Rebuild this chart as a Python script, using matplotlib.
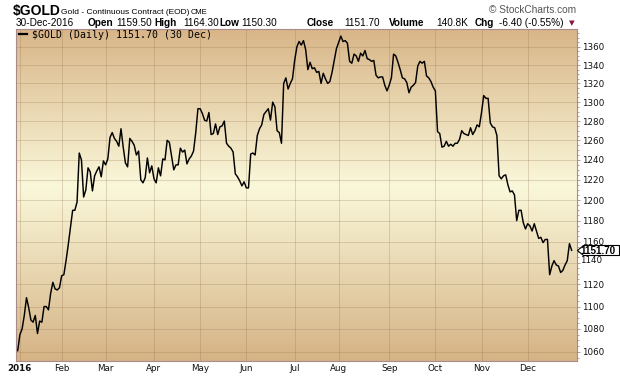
import numpy as np
import pandas as pd
import matplotlib

matplotlib.use("Agg")
import matplotlib.pyplot as plt
from matplotlib.colors import LinearSegmentedColormap
from matplotlib.lines import Line2D
from matplotlib.path import Path
from matplotlib.ticker import FixedFormatter, FixedLocator, NullFormatter
import matplotlib.transforms as mtransforms

# ── Data: $GOLD daily closes ─────────────────────────────────────────────────

prev_close = [1061.0]  # 31-Dec-2015
jan = [1075, 1080, 1092, 1108, 1099, 1088, 1086, 1092, 1076, 1087, 1086, 1100,
       1100, 1097, 1112, 1122, 1116, 1115, 1117]
feb = [1128, 1129, 1142, 1157, 1173, 1190, 1190, 1198, 1247, 1240, 1203, 1210,
       1232, 1228, 1209, 1224, 1229, 1233, 1223, 1239]
mar = [1235, 1241, 1263, 1268, 1262, 1259, 1254, 1272, 1253, 1237, 1233, 1262,
       1259, 1255, 1245, 1249, 1220, 1217, 1222, 1242, 1227, 1234]
apr = [1221, 1217, 1232, 1224, 1241, 1240, 1260, 1258, 1244, 1230, 1235, 1235,
       1252, 1248, 1250, 1236, 1241, 1244, 1249, 1268, 1293]
may = [1293, 1288, 1281, 1280, 1289, 1266, 1267, 1277, 1266, 1274, 1275, 1280,
       1257, 1254, 1252, 1248, 1226, 1223, 1219, 1214, 1218]
jun = [1212, 1212, 1246, 1247, 1245, 1265, 1272, 1276, 1287, 1290, 1293, 1281,
       1300, 1295, 1270, 1268, 1257, 1320, 1326, 1314, 1320, 1325]
jul = [1345, 1360, 1366, 1362, 1367, 1357, 1335, 1343, 1336, 1337, 1332, 1333,
       1320, 1331, 1325, 1320, 1322, 1332, 1345, 1358]
aug = [1365, 1372, 1366, 1367, 1364, 1344, 1342, 1352, 1350, 1344, 1353, 1350,
       1356, 1347, 1346, 1344, 1345, 1329, 1326, 1327, 1327, 1318, 1312]
sep = [1318, 1326, 1352, 1350, 1343, 1335, 1326, 1325, 1321, 1310, 1316, 1318,
       1321, 1339, 1344, 1342, 1344, 1328, 1326, 1322, 1316]
oct_ = [1312, 1269, 1267, 1253, 1254, 1259, 1254, 1256, 1254, 1257, 1257, 1261,
        1270, 1267, 1266, 1265, 1273, 1266, 1270, 1276, 1274]
nov = [1289, 1307, 1304, 1304, 1278, 1274, 1273, 1265, 1224, 1221, 1224, 1225,
       1215, 1208, 1209, 1205, 1180, 1190, 1190, 1178, 1172]
dec = [1177, 1175, 1170, 1177, 1170, 1163, 1164, 1159, 1162, 1162, 1129, 1137,
       1142, 1138, 1137, 1131, 1133, 1138, 1142, 1158, 1151.7]

holidays = ["2016-01-18", "2016-02-15", "2016-03-25", "2016-05-30",
            "2016-07-04", "2016-09-05", "2016-11-24", "2016-12-26"]
month_labels = ["2016", "Feb", "Mar", "Apr", "May", "Jun", "Jul", "Aug",
                "Sep", "Oct", "Nov", "Dec"]
y_ticks = list(range(1060, 1361, 20))
last_close = 1151.70

header_pieces = [  # (text, bold)
    ("30-Dec-2016", False), ("Open", True), ("1159.50", False),
    ("High", True), ("1164.30", False), ("Low", True), ("1150.30", False),
    ("Close", True), ("1151.70", False), ("Volume", True), ("140.8K", False),
    ("Chg", True), ("-6.40 (-0.55%)", False),
]
header_x = [16, 88, 116, 154, 183, 219, 241, 307, 344, 389, 436, 475, 499]

# ── Layout helpers (pixels of a 620x376 image) ───────────────────────────────

W, H = 620, 376
SANS = "Liberation Sans"


def fx(x):
    return x / W


def fy(y):
    return 1 - y / H


# ── Series ───────────────────────────────────────────────────────────────────

dates = pd.bdate_range("2016-01-04", "2016-12-30")
dates = dates[~dates.isin(pd.to_datetime(holidays))]
closes = np.array(prev_close + jan + feb + mar + apr + may + jun + jul + aug
                  + sep + oct_ + nov + dec, dtype=float)
xs = np.arange(len(closes)) - 1  # trading-day index, 0 = 4-Jan-2016
month = dates.month.to_numpy()
month_pos = np.flatnonzero(np.r_[True, month[1:] != month[:-1]])

# ── Figure ───────────────────────────────────────────────────────────────────

fig = plt.figure(figsize=(6.2, 3.76), dpi=100)
rect = [fx(16), fy(361), fx(576.7) - fx(16), fy(28.5) - fy(361)]

bg = fig.add_axes(rect, zorder=0)
cmap = LinearSegmentedColormap.from_list(
    "tan", [(0.0, "#D8B588"), (0.476, "#FAF8DA"), (1.0, "#D5B385")])
bg.imshow(np.linspace(0, 1, 256)[:, None], aspect="auto", cmap=cmap,
          extent=[0, 1, 0, 1], interpolation="bilinear")
bg.set_axis_off()

ax = fig.add_axes(rect, zorder=1)
ax.patch.set_visible(False)
ax.set_yscale("log")
ax.plot(xs, closes, color="black", lw=1.05, zorder=3)

ax.set_xlim(-1.77, 253.3)
ax.set_ylim(1052.1, 1380.6)

spine_c = "#A88C8C"
for s in ax.spines.values():
    s.set_color(spine_c)
    s.set_linewidth(0.8)

ax.yaxis.tick_right()
ax.yaxis.set_major_locator(FixedLocator(y_ticks))
ax.yaxis.set_major_formatter(
    FixedFormatter(["" if v == 1140 else str(v) for v in y_ticks]))
ax.yaxis.set_minor_locator(
    FixedLocator([v for v in range(1055, 1380, 5) if v % 20]))
ax.yaxis.set_minor_formatter(NullFormatter())
ax.tick_params(axis="y", which="major", length=2, width=0.6, color=spine_c,
               pad=1.5, labelsize=6.3, labelcolor="#111111")
ax.tick_params(axis="y", which="minor", length=1.2, width=0.6, color=spine_c)
# 1140 sits pushed up just under the last-price tag in the original
ax.annotate("1140", xy=(1, 1140), xycoords=("axes fraction", "data"),
            xytext=(2.6, 1.4), textcoords="offset points", va="center",
            ha="left", fontsize=6.3, color="#111111")

ax.set_xticks(month_pos)
ax.set_xticklabels(month_labels)
ax.tick_params(axis="x", length=0, pad=2.2, labelsize=6.3,
               labelcolor="#111111")
ax.get_xticklabels()[0].set_fontweight("bold")

ax.grid(True, which="major", color="#8C6A46", alpha=0.25, lw=0.7)
ax.set_axisbelow(True)

# last price tag
tag = Path([(0, 0), (6, 5), (42, 5), (42, -5), (6, -5), (0, 0)],
           [Path.MOVETO] + [Path.LINETO] * 4 + [Path.CLOSEPOLY])
tr = mtransforms.blended_transform_factory(ax.transAxes, ax.transData)
ax.plot([1], [last_close], marker=tag, ms=60.5, mfc="white", mec="black",
        mew=0.8, transform=tr, clip_on=False, zorder=5)
ax.annotate(f"{last_close:.2f}", xy=(1, last_close),
            xycoords=("axes fraction", "data"), xytext=(2.3, -0.3),
            textcoords="offset points", va="center", ha="left",
            fontsize=7.1, fontweight="bold", family=SANS, zorder=6)

# legend line inside the plot
fig.add_artist(Line2D([fx(19), fx(27)], [fy(34), fy(34)], color="black",
                      lw=1.6, transform=fig.transFigure))
fig.text(fx(31.5), fy(37.8), "$GOLD (Daily) 1151.70 (30 Dec)",
         family="DejaVu Sans Mono", fontsize=7.1, va="baseline")

# ── Header ───────────────────────────────────────────────────────────────────

fig.text(fx(13), fy(14.5), "$GOLD", family=SANS, fontweight="bold",
         fontsize=10, va="baseline")
fig.text(fx(61), fy(14), "Gold - Continuous Contract (EOD)", family=SANS,
         fontsize=6.0, va="baseline")
fig.text(fx(191), fy(13.8), "CME", family=SANS, fontsize=5.4, va="baseline")
fig.text(fx(576), fy(13), "\u00a9 StockCharts.com", family=SANS, fontsize=7.3,
         color="#555555", ha="right", va="baseline")

for (txt, bold), x in zip(header_pieces, header_x):
    fig.text(fx(x), fy(26.5), txt, family=SANS, fontsize=7.2,
             fontweight="bold" if bold else "normal", va="baseline")
fig.text(fx(572), fy(23.3), "\u25bc", family="DejaVu Sans", fontsize=5.3,
         color="#8B1538", ha="center", va="center")

fig.savefig("out.png", dpi=100, facecolor="white")
